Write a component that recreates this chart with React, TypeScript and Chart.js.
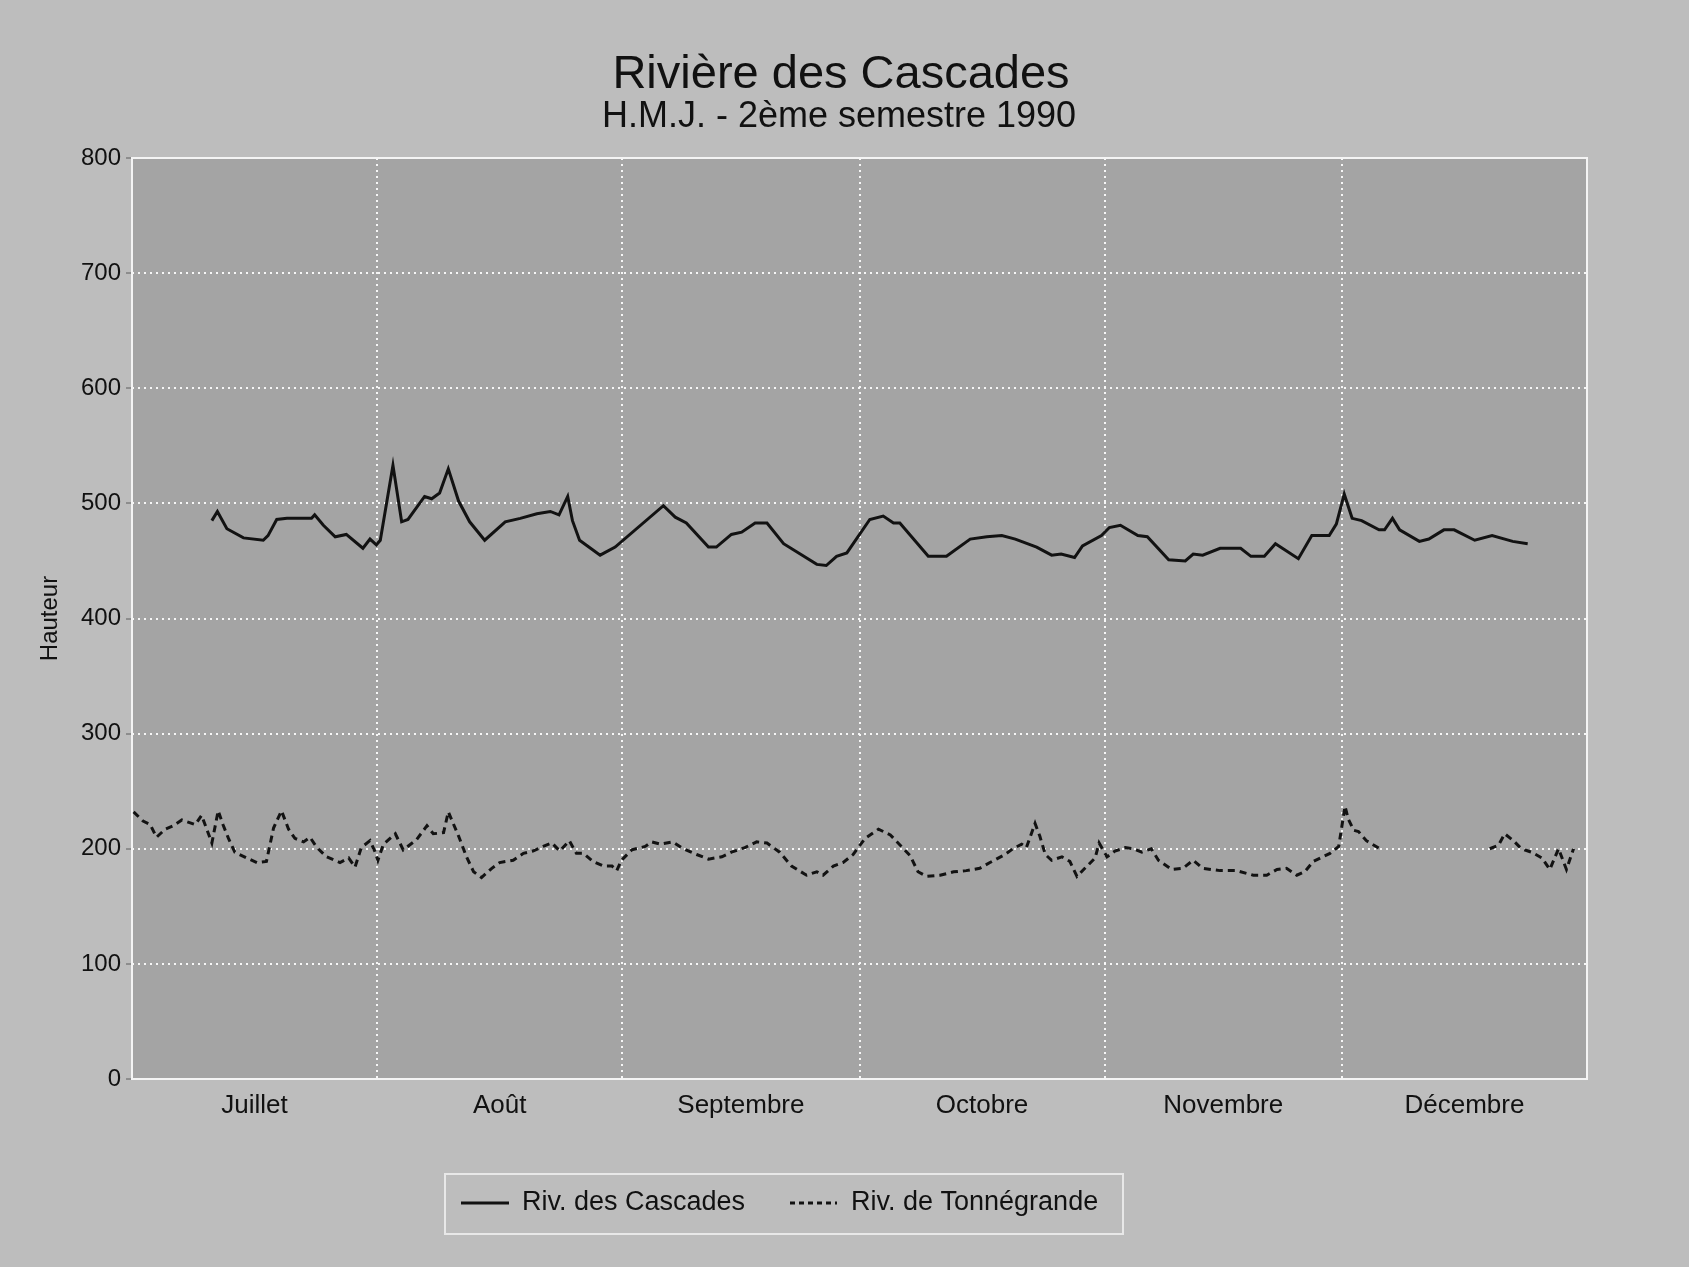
import React, { useEffect, useRef } from "react";
import { Chart, registerables } from "chart.js";

Chart.register(...registerables);
Chart.defaults.font.family = "'Liberation Sans', Arial, Helvetica, sans-serif";

// Titles and labels
const titleText = "Rivière des Cascades";
const subtitleText = "H.M.J. - 2ème semestre 1990";
const yAxisTitle = "Hauteur";
const seriesNames = ["Riv. des Cascades", "Riv. de Tonnégrande"];
const monthLabels = ["Juillet", "Août", "Septembre", "Octobre", "Novembre", "Décembre"];

// Day offsets (from 1 July) of the month boundaries, and the mid-month label positions
const monthBoundaryDays = [0, 31, 62, 92, 123, 153, 184];
const monthMidDays = [15.5, 46.5, 77, 107.5, 138, 168.5];

// Rivière des Cascades: day offset and daily height
const cascadesDays = [
  10.1, 10.8, 12.0, 14.1, 16.6, 17.2, 18.3, 19.6, 22.7, 23.1, 24.2, 25.7, 27.1, 29.2, 30.1, 30.9,
  31.4, 33.0, 34.1, 34.9, 37.0, 37.9, 38.9, 40.0, 41.3, 42.7, 44.6, 47.2, 49.1, 51.2, 52.9, 54.0,
  55.1, 55.7, 56.6, 59.2, 61.1, 67.2, 68.7, 70.1, 72.9, 73.9, 75.8, 77.1, 78.8, 80.3, 82.4, 86.6,
  87.8, 89.1, 90.4, 93.3, 95.0, 96.3, 97.1, 100.7, 103.0, 106.0, 108.1, 110.0, 111.7, 114.4, 116.3,
  117.5, 119.2, 120.2, 122.6, 123.6, 125.0, 127.2, 128.4, 131.1, 133.2, 134.2, 135.4, 137.6, 140.2,
  141.5, 143.2, 144.6, 147.5, 149.2, 151.4, 152.3, 153.3, 154.3, 155.5, 157.7, 158.4, 159.4, 160.3,
  162.8, 164.0, 165.9, 167.2, 169.8, 172.0, 174.6, 176.5,
];
const cascadesHauteur = [
  485, 493, 478, 470, 468, 472, 486, 487, 487, 490, 481, 471, 473, 461, 469, 464,
  468, 533, 484, 486, 506, 504, 509, 530, 502, 484, 468, 484, 487, 491, 493, 490,
  506, 485, 468, 455, 462, 498, 488, 483, 462, 462, 473, 475, 483, 483, 465, 447,
  446, 454, 457, 486, 489, 483, 483, 454, 454, 469, 471, 472, 469, 462, 455,
  456, 453, 463, 472, 479, 481, 472, 471, 451, 450, 456, 455, 461, 461,
  454, 454, 465, 452, 472, 472, 482, 508, 487, 485, 477, 477, 487, 477,
  467, 469, 477, 477, 468, 472, 467, 465,
];

// Rivière de Tonnégrande: day offset and daily height (null = missing record)
const tonnegrandeDays = [
  0.2, 1.4, 2.3, 3.1, 4.2, 5.2, 6.3, 8.0, 8.8, 9.4, 10.1, 10.9, 11.5, 12.2, 13.0, 14.5, 15.8, 17.0,
  17.9, 18.9, 19.8, 20.6, 21.7, 22.5, 23.4, 24.6, 26.3, 27.4, 28.2, 29.0, 30.1, 30.7, 31.1, 31.8,
  33.3, 34.3, 36.0, 37.3, 38.1, 39.4, 40.0, 41.3, 42.3, 43.2, 44.2, 45.5, 46.5, 48.2, 49.5, 50.7,
  52.0, 53.1, 54.1, 55.3, 56.2, 57.1, 58.3, 59.6, 60.7, 61.3, 61.9, 63.2, 64.9, 65.7, 66.8, 68.4,
  69.7, 71.4, 72.9, 74.6, 75.8, 77.5, 79.0, 80.3, 81.9, 83.4, 85.3, 86.6, 87.4, 88.7, 89.9, 91.2,
  92.7, 94.4, 95.9, 97.3, 98.4, 99.4, 100.5, 102.2, 103.9, 105.5, 107.2, 108.5, 110.4, 111.4, 112.5,
  113.1, 114.2, 114.8, 115.5, 116.3, 117.6, 118.6, 119.5, 120.5, 121.8, 122.3, 123.3, 124.3, 125.6,
  126.6, 127.7, 128.9, 129.8, 131.5, 132.9, 134.2, 135.4, 137.6, 139.7, 141.8, 143.5, 144.8, 146.0,
  147.3, 148.3, 149.4, 151.5, 152.6, 153.4, 153.8, 154.5, 155.1, 156.1, 157.8, 165.0, 171.7, 172.8,
  173.6, 174.7, 175.7, 177.0, 178.3, 179.3, 180.4, 181.4, 182.3,
];
const tonnegrandeHauteur = [
  232, 224, 221, 210, 217, 220, 225, 221, 229, 218, 205, 233, 221, 209, 197, 192, 188, 189,
  218, 233, 217, 209, 206, 210, 201, 193, 188, 192, 184, 201, 207, 198, 190, 204,
  213, 199, 208, 220, 213, 214, 232, 211, 193, 180, 175, 183, 188, 190, 196, 198,
  202, 205, 198, 207, 196, 196, 189, 185, 185, 181, 190, 199, 202, 206, 204, 206,
  200, 195, 191, 193, 197, 201, 206, 205, 197, 185, 177, 180, 177, 185, 188, 195,
  209, 217, 212, 202, 194, 180, 176, 177, 180, 181, 183, 188, 195, 200, 204,
  201, 222, 211, 195, 190, 193, 189, 176, 183, 192, 205, 193, 198, 201,
  200, 197, 200, 190, 182, 183, 190, 183, 181, 181, 177, 177, 182, 183,
  177, 180, 189, 196, 202, 237, 226, 216, 215, 207, 200, null, 200, 203,
  213, 207, 200, 197, 192, 182, 200, 182, 200,
];

const PAPER = "#bdbdbd";
const PLOT = "#a4a4a4";
const INK = "#111111";
const GRID = "rgba(255,255,255,0.9)";

// x ticks alternate: month boundary (grid line, no label), mid-month (label, no grid line)
const xTickDays: number[] = [];
monthBoundaryDays.forEach((d, i) => {
  xTickDays.push(d);
  if (i < monthMidDays.length) xTickDays.push(monthMidDays[i]);
});

const paperPlugin = {
  id: "paper",
  beforeDraw(chart: any) {
    const { ctx, width, height, chartArea } = chart;
    ctx.save();
    ctx.fillStyle = PAPER;
    ctx.fillRect(0, 0, width, height);
    ctx.fillStyle = PLOT;
    ctx.fillRect(chartArea.left, chartArea.top, chartArea.right - chartArea.left, chartArea.bottom - chartArea.top);
    ctx.restore();
  },
  beforeDatasetsDraw(chart: any) {
    const { ctx, chartArea } = chart;
    ctx.save();
    ctx.strokeStyle = "#f4f4f4";
    ctx.lineWidth = 2;
    ctx.setLineDash([]);
    ctx.strokeRect(chartArea.left, chartArea.top, chartArea.right - chartArea.left, chartArea.bottom - chartArea.top);
    ctx.restore();
  },
};

const headingPlugin = {
  id: "heading",
  afterDraw(chart: any) {
    const { ctx } = chart;
    const family = Chart.defaults.font.family;
    ctx.save();
    ctx.fillStyle = INK;
    ctx.textAlign = "center";
    ctx.textBaseline = "alphabetic";
    ctx.font = `47px ${family}`;
    ctx.fillText(titleText, 841, 88);
    ctx.font = `36px ${family}`;
    ctx.fillText(subtitleText, 839, 127);
    ctx.restore();
  },
};

const legendBoxPlugin = {
  id: "legendBox",
  afterDraw(chart: any) {
    const { ctx } = chart;
    const family = Chart.defaults.font.family;
    const cy = 1203;
    ctx.save();
    ctx.strokeStyle = "#e8e8e8";
    ctx.lineWidth = 2;
    ctx.strokeRect(445, 1174, 678, 60);
    const ds = chart.data.datasets;
    const items = [
      { x0: 461, x1: 509, tx: 522 },
      { x0: 790, x1: 837, tx: 851 },
    ];
    items.forEach((it, i) => {
      ctx.strokeStyle = ds[i].borderColor;
      ctx.lineWidth = 3;
      ctx.setLineDash(i === 1 ? [5, 4] : []);
      ctx.beginPath();
      ctx.moveTo(it.x0, cy);
      ctx.lineTo(it.x1, cy);
      ctx.stroke();
      ctx.setLineDash([]);
      ctx.fillStyle = INK;
      ctx.font = `27px ${family}`;
      ctx.textAlign = "left";
      ctx.textBaseline = "middle";
      ctx.fillText(ds[i].label, it.tx, cy);
    });
    ctx.restore();
  },
};

export default function App() {
  const canvasRef = useRef<HTMLCanvasElement>(null);

  useEffect(() => {
    const canvas = canvasRef.current;
    if (!canvas) return;
    const chart = new Chart(canvas, {
      type: "line",
      data: {
        datasets: [
          {
            label: seriesNames[0],
            data: cascadesDays.map((d, i) => ({ x: d, y: cascadesHauteur[i] })),
            borderColor: "#121212",
            borderWidth: 3,
            pointRadius: 0,
            tension: 0,
          },
          {
            label: seriesNames[1],
            data: tonnegrandeDays.map((d, i) => ({ x: d, y: tonnegrandeHauteur[i] })),
            borderColor: "#121212",
            borderWidth: 3,
            borderDash: [7, 5],
            pointRadius: 0,
            tension: 0,
            spanGaps: false,
          },
        ],
      },
      options: {
        animation: false,
        responsive: false,
        events: [],
        layout: { padding: { top: 158, right: 102, bottom: 128, left: 0 } },
        plugins: {
          legend: { display: false },
          tooltip: { enabled: false },
          title: { display: false },
        },
        scales: {
          x: {
            type: "linear",
            min: 0,
            max: 184,
            afterBuildTicks: (scale: any) => {
              scale.ticks = xTickDays.map((v) => ({ value: v }));
            },
            afterFit: (scale: any) => {
              scale.height = 60;
            },
            ticks: {
              autoSkip: false,
              maxRotation: 0,
              padding: 11,
              color: INK,
              font: { size: 26 },
              callback: (_v: any, i: number) => (i % 2 === 1 ? monthLabels[(i - 1) / 2] : ""),
            },
            grid: {
              color: (ctx: any) => (ctx.index % 2 === 0 ? GRID : "rgba(0,0,0,0)"),
              lineWidth: 2,
              drawTicks: false,
            },
            border: { display: false, dash: [2, 4] },
          },
          y: {
            min: 0,
            max: 800,
            afterFit: (scale: any) => {
              scale.width = 132;
            },
            ticks: { stepSize: 100, padding: 5, color: INK, font: { size: 24 } },
            grid: { color: GRID, lineWidth: 2, tickLength: 6, tickColor: "#5c5c5c", tickWidth: 1 },
            border: { display: false, dash: [2, 4] },
            title: {
              display: true,
              text: yAxisTitle,
              color: INK,
              font: { size: 24 },
              padding: { top: 36, bottom: 0 },
            },
          },
        },
      },
      plugins: [paperPlugin, headingPlugin, legendBoxPlugin],
    } as any);
    return () => chart.destroy();
  }, []);

  return (
    <div style={{ position: "absolute", left: 0, top: 0, width: 1689, height: 1267, background: PAPER }}>
      <canvas ref={canvasRef} width={1689} height={1267} style={{ display: "block", width: 1689, height: 1267 }} />
    </div>
  );
}
